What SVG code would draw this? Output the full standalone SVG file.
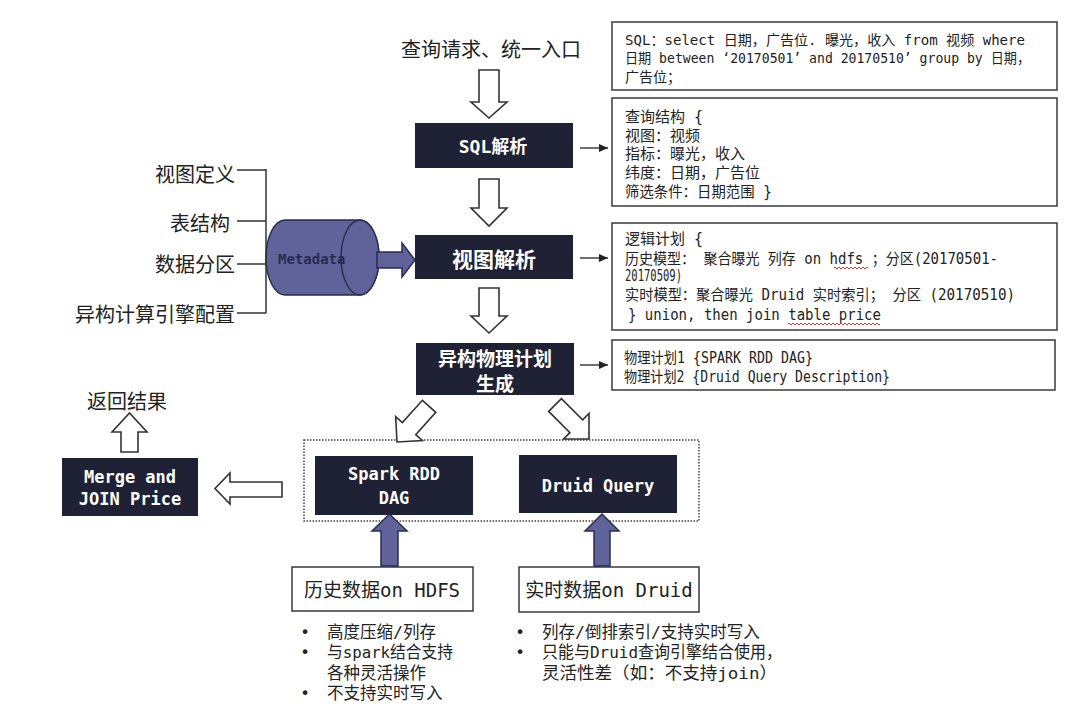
<svg xmlns="http://www.w3.org/2000/svg" width="1080" height="712" viewBox="0 0 1080 712">
<defs>
<style>
.cn{font-family:"Noto Sans CJK SC","Noto Sans",sans-serif;}
.mono{font-family:"DejaVu Sans Mono","Noto Sans CJK SC",monospace;}
.dark{fill:#1f2134;}
.wt{fill:#ffffff;font-weight:bold;text-anchor:middle;dominant-baseline:central;}
.box{fill:#ffffff;stroke:#3a3a3a;stroke-width:1.5;}
.t{fill:#222222;dominant-baseline:central;}
.lbl{fill:#222222;dominant-baseline:central;font-size:20px;}
.hollow{fill:#ffffff;stroke:#333333;stroke-width:1.6;stroke-linejoin:miter;}
.blue{fill:#5f6399;stroke:#2a2d50;stroke-width:1.5;}
.line{stroke:#333333;stroke-width:1.5;fill:none;}
.thin{stroke:#222222;stroke-width:1.3;fill:none;}
.wavy{stroke:#e03030;stroke-width:1;fill:none;}
</style>
<marker id="ah" markerWidth="10" markerHeight="10" refX="9" refY="5" orient="auto" markerUnits="userSpaceOnUse"><path d="M0,1 L9,5 L0,9 Z" fill="#222222"/></marker>
<path id="diag" d="M-9,-48 L9,-48 L9,-18 L18,-18 L0,0 L-18,-18 L-9,-18 Z"/>
</defs>
<rect width="1080" height="712" fill="#ffffff"/>

<g id="title">
<text class="cn lbl" x="491" y="48" text-anchor="middle">查询请求、统一入口</text>
</g>

<g id="meta-labels">
<text class="cn lbl" x="235" y="173" text-anchor="end">视图定义</text>
<text class="cn lbl" x="230" y="222" text-anchor="end">表结构</text>
<text class="cn lbl" x="235" y="263" text-anchor="end">数据分区</text>
<text class="cn lbl" x="235" y="313" text-anchor="end">异构计算引擎配置</text>
</g>

<g id="metadata">
<path d="M285,220 H360 A19,37.5 0 0 1 360,295 H285 A19,37.5 0 0 1 285,220 Z" class="blue"/>
<ellipse cx="360" cy="257.5" rx="19" ry="37.5" class="blue"/>
<text class="mono" x="278" y="259" font-size="14" font-weight="bold" fill="#272a50" dominant-baseline="central">Metadata</text>
</g>

<g id="sql-parse">
<rect class="dark" x="415" y="123" width="158" height="45"/>
<text class="mono wt" x="493" y="146" font-size="18">SQL解析</text>
</g>

<g id="view-parse">
<rect class="dark" x="415" y="235" width="158" height="44"/>
<text class="cn wt" x="494" y="258" font-size="21">视图解析</text>
</g>

<g id="physical-plan">
<rect class="dark" x="416" y="343" width="158" height="52"/>
<text class="cn wt" x="495" y="357" font-size="19">异构物理计划</text>
<text class="cn wt" x="495" y="382" font-size="19">生成</text>
</g>

<g id="sql-box">
<rect class="box" x="612" y="22" width="445" height="68"/>
<text class="mono t" x="625" y="40" font-size="14" textLength="400" lengthAdjust="spacingAndGlyphs">SQL：select 日期，广告位. 曝光，收入 from 视频 where</text>
<text class="mono t" x="625" y="58" font-size="14" textLength="405" lengthAdjust="spacingAndGlyphs">日期 between ‘20170501’ and 20170510’ group by 日期，</text>
<text class="mono t" x="625" y="77" font-size="14">广告位；</text>
</g>

<g id="query-struct">
<rect class="box" x="612" y="98" width="445" height="108"/>
<text class="mono t" x="625" y="117" font-size="15">查询结构 {</text>
<text class="mono t" x="625" y="136" font-size="15">视图：视频</text>
<text class="mono t" x="625" y="154" font-size="15">指标：曝光，收入</text>
<text class="mono t" x="625" y="173" font-size="15">纬度：日期，广告位</text>
<text class="mono t" x="625" y="192" font-size="15" textLength="147" lengthAdjust="spacingAndGlyphs">筛选条件：日期范围 }</text>
</g>

<g id="logic-plan">
<rect class="box" x="612" y="223" width="445" height="107"/>
<text class="mono t" x="625" y="239" font-size="15">逻辑计划 {</text>
<text class="mono t" x="625" y="259" font-size="15" textLength="373" lengthAdjust="spacingAndGlyphs">历史模型：  聚合曝光 列存 on hdfs ；分区(20170501-</text>
<text class="mono t" x="625" y="276" font-size="15" textLength="57" lengthAdjust="spacingAndGlyphs">20170509)</text>
<text class="mono t" x="625" y="295" font-size="15" textLength="390" lengthAdjust="spacingAndGlyphs">实时模型：聚合曝光 Druid 实时索引；  分区 (20170510)</text>
<text class="mono t" x="628" y="315" font-size="15" textLength="253" lengthAdjust="spacingAndGlyphs">} union, then join table price</text>
<path class="wavy" d="M834,268 q1,-2 2,0 t2,0 t2,0 t2,0 t2,0 t2,0 t2,0 t2,0 t2,0 t2,0 t2,0 t2,0 t2,0 t2,0 t2,0 t2,0 t2,0"/>
<path class="wavy" d="M788,324 q1,-2 2,0 t2,0 t2,0 t2,0 t2,0 t2,0 t2,0 t2,0 t2,0 t2,0 t2,0 t2,0 t2,0 t2,0 t2,0 t2,0 t2,0 t2,0 t2,0 t2,0 t2,0 t2,0 t2,0 t2,0 t2,0 t2,0 t2,0 t2,0 t2,0 t2,0 t2,0 t2,0 t2,0 t2,0 t2,0 t2,0 t2,0 t2,0 t2,0 t2,0 t2,0 t2,0 t2,0 t2,0 t2,0 t2,0"/>
</g>

<g id="phys-box">
<rect class="box" x="612" y="340" width="443" height="50"/>
<text class="mono t" x="624" y="358" font-size="15" textLength="189" lengthAdjust="spacingAndGlyphs">物理计划1 {SPARK RDD DAG}</text>
<text class="mono t" x="624" y="377" font-size="15" textLength="266" lengthAdjust="spacingAndGlyphs">物理计划2 {Druid Query Description}</text>
</g>

<g id="exec-group">
<rect x="304" y="440" width="395" height="81" fill="none" stroke="#444444" stroke-width="1.5" stroke-dasharray="1.5,1.5"/>
</g>

<g id="spark-rdd">
<rect class="dark" x="315" y="456" width="158" height="59"/>
<text class="mono wt" x="394" y="474" font-size="17">Spark RDD</text>
<text class="mono wt" x="394" y="498" font-size="17">DAG</text>
</g>

<g id="druid-query">
<rect class="dark" x="519" y="455" width="158" height="58"/>
<text class="mono wt" x="598" y="486" font-size="17">Druid Query</text>
</g>

<g id="merge">
<rect class="dark" x="62" y="458" width="136" height="58"/>
<text class="mono wt" x="130" y="477" font-size="17">Merge and</text>
<text class="mono wt" x="130" y="499" font-size="17">JOIN Price</text>
</g>

<g id="result">
<text class="cn lbl" x="127" y="400" text-anchor="middle">返回结果</text>
</g>

<g id="hdfs">
<rect class="box" x="292" y="567" width="181" height="44"/>
<text class="mono t" x="382" y="590" font-size="19" text-anchor="middle">历史数据on HDFS</text>
<text class="mono t" x="305" y="632" font-size="16" text-anchor="middle">•</text>
<text class="mono t" x="327" y="632" font-size="16.5">高度压缩/列存</text>
<text class="mono t" x="305" y="652" font-size="16" text-anchor="middle">•</text>
<text class="mono t" x="327" y="652" font-size="16.5" textLength="126" lengthAdjust="spacingAndGlyphs">与spark结合支持</text>
<text class="mono t" x="327" y="673" font-size="16.5">各种灵活操作</text>
<text class="mono t" x="305" y="693" font-size="16" text-anchor="middle">•</text>
<text class="mono t" x="327" y="693" font-size="16.5">不支持实时写入</text>
</g>

<g id="druid-data">
<rect class="box" x="519" y="567" width="180" height="45"/>
<text class="mono t" x="609" y="590" font-size="19" text-anchor="middle">实时数据on Druid</text>
<text class="mono t" x="520" y="632" font-size="16" text-anchor="middle">•</text>
<text class="mono t" x="542" y="632" font-size="16.5">列存/倒排索引/支持实时写入</text>
<text class="mono t" x="520" y="652" font-size="16" text-anchor="middle">•</text>
<text class="mono t" x="542" y="652" font-size="16.5" textLength="240" lengthAdjust="spacingAndGlyphs">只能与Druid查询引擎结合使用，</text>
<text class="mono t" x="542" y="673" font-size="16.5" textLength="235" lengthAdjust="spacingAndGlyphs">灵活性差（如：不支持join）</text>
</g>

<g id="connectors">
<path class="line" d="M237,170 H266 M237,221 H266 M237,264 H266 M237,313 H266 M266,169 V313"/>
<polygon class="blue" points="377,252 402,252 402,243 415,260 402,277 402,268 377,268"/>
<polygon class="hollow" points="479,70 499,70 499,102 507,102 489,118 471,102 479,102"/>
<polygon class="hollow" points="479,179 499,179 499,208 507,208 489,226 471,208 479,208"/>
<polygon class="hollow" points="479,288 499,288 499,316 507,316 489,333 471,316 479,316"/>
<line class="thin" x1="580" y1="148" x2="608" y2="148" marker-end="url(#ah)"/>
<line class="thin" x1="580" y1="258" x2="608" y2="258" marker-end="url(#ah)"/>
<line class="thin" x1="580" y1="365" x2="608" y2="365" marker-end="url(#ah)"/>
<use href="#diag" class="hollow" transform="translate(397,442) rotate(42)"/>
<use href="#diag" class="hollow" transform="translate(589,439) rotate(-45)"/>
<polygon class="hollow" points="282,482 230,482 230,473 215,488.5 230,504 230,497 282,497"/>
<polygon class="hollow" points="121,452 138,452 138,432 147,432 129.5,413 112,432 121,432"/>
<polygon class="blue" points="381,566 398,566 398,531 407,531 389.5,514 372,531 381,531"/>
<polygon class="blue" points="594,566 610,566 610,531 619,531 602,514 585,531 594,531"/>
</g>
</svg>
